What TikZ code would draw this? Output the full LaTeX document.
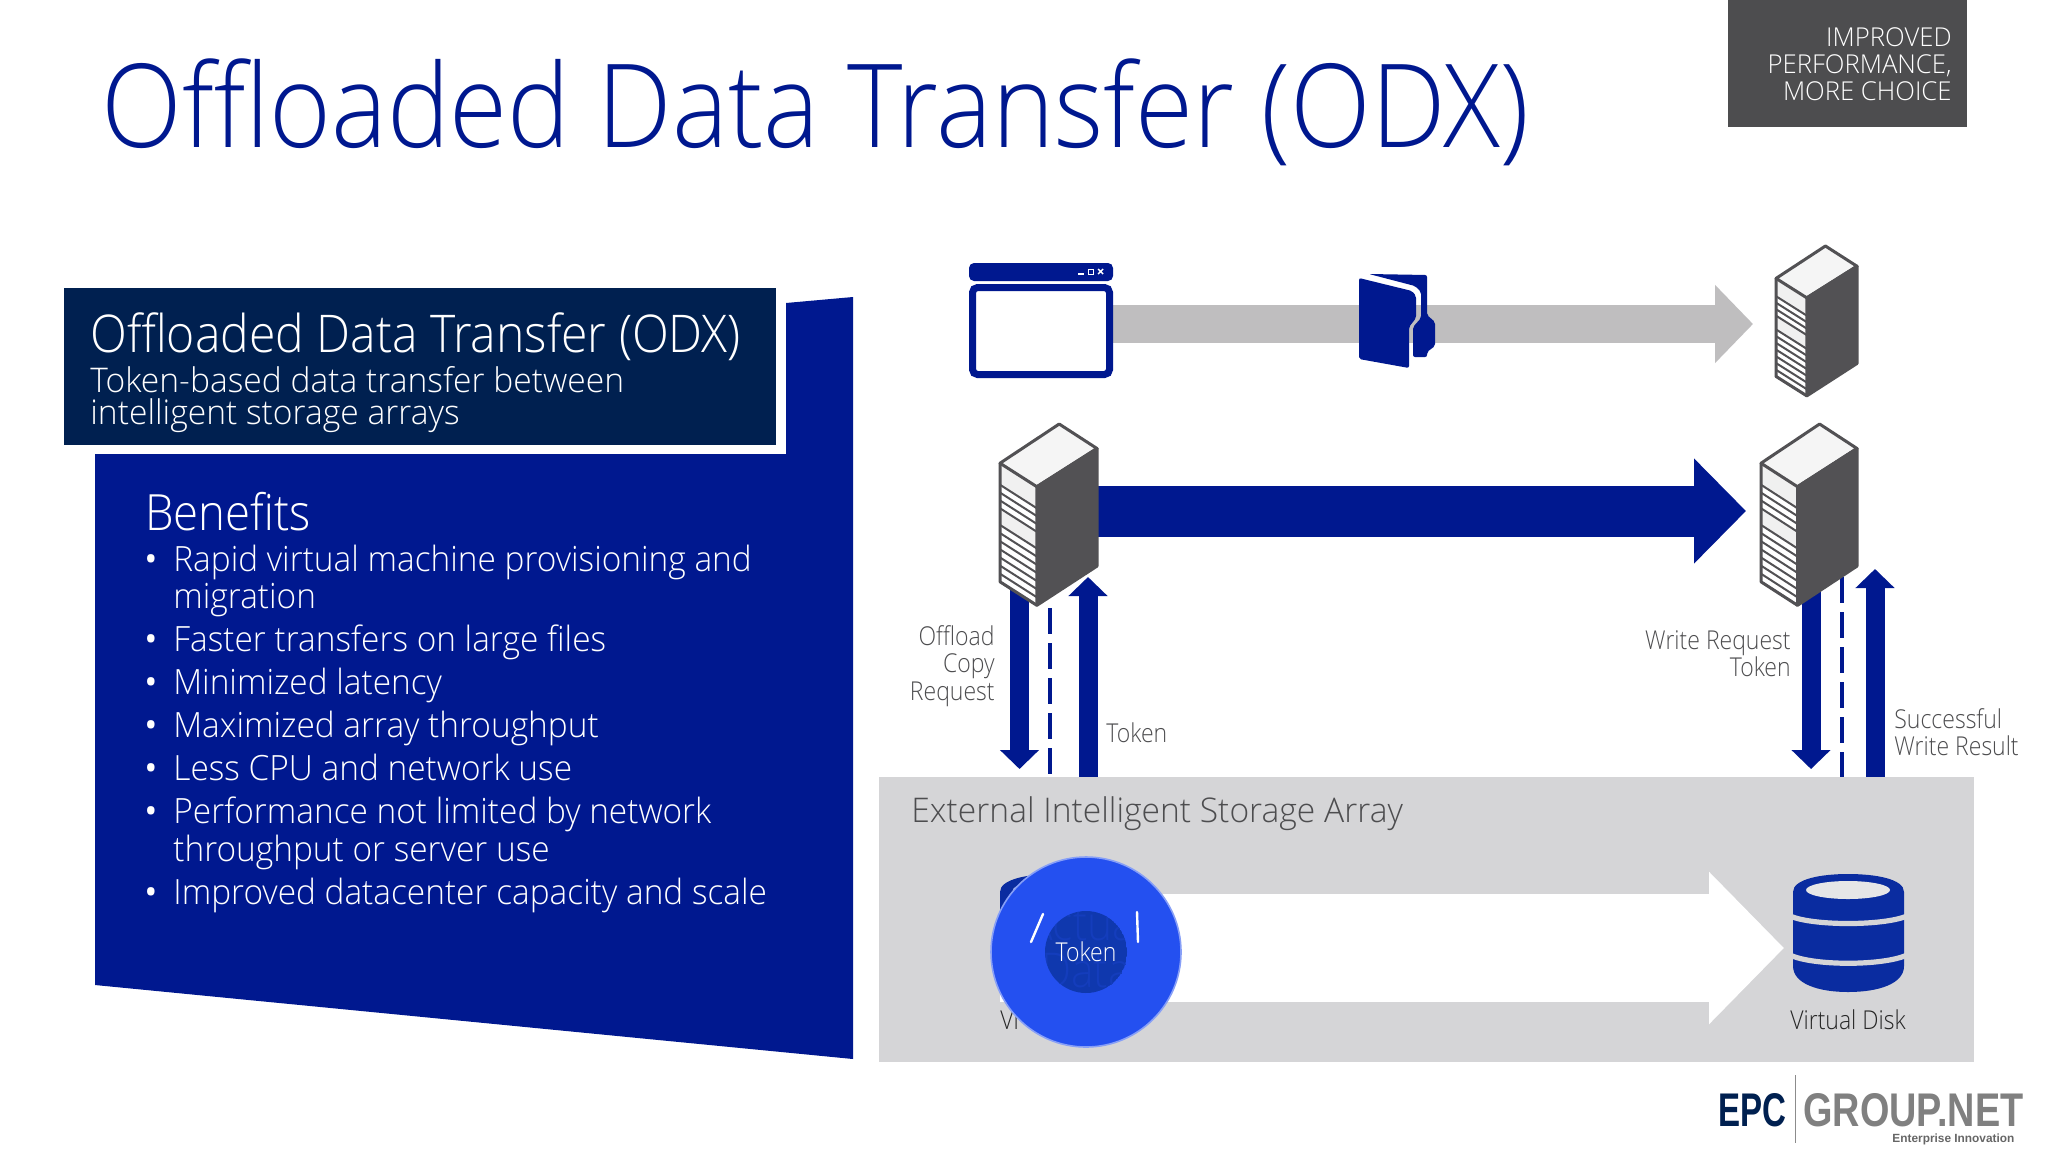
\documentclass[tikz,border=0pt]{standalone}
\usepackage{fontspec}
\usepackage{graphicx}
\setmainfont{Open Sans}
\newfontfamily\lightf{Open Sans Light}
\newfontfamily\lightn[FakeStretch=0.885]{Open Sans Light}
\newfontfamily\lightm[FakeStretch=0.91]{Open Sans Light}
\newfontfamily\lighth[FakeStretch=0.925]{Open Sans Light}
\newfontfamily\lights[FakeStretch=0.96]{Open Sans Light}
\newfontfamily\lightw[FakeStretch=0.988]{Open Sans Light}
\newfontfamily\logof{Liberation Sans}
\usetikzlibrary{arrows.meta}
\definecolor{odxblue}{HTML}{00188F}
\definecolor{odxnavy}{HTML}{002050}
\definecolor{odxgray}{HTML}{D5D5D7}
\definecolor{odxmid}{HTML}{BFBEBF}
\definecolor{odxtext}{HTML}{4D4D4F}
\definecolor{odxslate}{HTML}{525154}
\definecolor{odxdisk}{HTML}{0A2CA0}
\definecolor{odxbright}{HTML}{2450F0}
\definecolor{odxinner}{HTML}{0F38AE}
\tikzset{
  x=0.5pt,y=-0.5pt,
  lab/.style={inner sep=0pt,text=odxtext,font=\lightn\fontsize{13pt}{13pt}\selectfont},
  ben/.style={inner sep=0pt,text=white,anchor=base west,font=\lights\fontsize{17.4pt}{17.4pt}\selectfont},
  dot/.style={inner sep=0pt,text=white,anchor=base,font=\fontsize{17.4pt}{17.4pt}\selectfont},
  thickarrow/.style={draw=odxblue,line width=9.5pt,-{Triangle[length=9.5pt,width=19pt]}},
  dashline/.style={draw=odxblue,line width=1.6pt,dash pattern=on 13pt off 4.5pt},
}
\newcommand{\serverbox}[4]{%
\begin{scope}[shift={(#1,#2)},xscale=#3,yscale=#4]
 \fill[white] (0,40)--(38,64)--(38,185)--(0,161)--cycle;
 \fill[black!6] (0,40)--(38,64)--(38,86)--(0,62)--cycle;
 \fill[black!6] (0,86)--(38,110)--(38,127)--(0,103)--cycle;
 \foreach \k in {22,30,38,46,63,71.3,79.6,87.9,96.2,104.5,112.8,121}
   \draw[odxslate,line width=1pt] (0,40+\k)--(38,64+\k);
 \fill[black!4,draw=odxslate,line width=1.5pt,line join=round] (61,0)--(100,25)--(38,64)--(0,40)--cycle;
 \fill[odxslate,draw=odxslate,line width=1.5pt,line join=round] (100,25)--(100,145)--(38,185)--(38,64)--cycle;
 \draw[odxslate,line width=1.5pt,line join=round] (0,40)--(0,161)--(38,185);
\end{scope}}
\newcommand{\diskicon}[2]{%
\begin{scope}[shift={(#1,#2)}]
 \fill[odxdisk] (0,18) .. controls (0,5) and (28,0) .. (55,0) .. controls (83,0) and (111,5) .. (111,18)
   -- (111,92) .. controls (111,110) and (85,118) .. (55,118) .. controls (26,118) and (0,110) .. (0,92) -- cycle;
 \fill[odxgray!60!white] (55,16) ellipse [x radius=42,y radius=9];
 \draw[odxgray,line width=2.6pt] (-3,42) .. controls (20,52) and (90,52) .. (114,42);
 \draw[odxgray,line width=2.6pt] (-3,81) .. controls (20,92) and (90,92) .. (114,81);
\end{scope}}
\begin{document}
\begin{tikzpicture}
\useasboundingbox (0,0) rectangle (2048,1152);
\fill[white] (0,0) rectangle (2048,1152);

% title
\node[inner sep=0pt,anchor=base west,text=odxblue,font=\lightm\fontsize{58pt}{58pt}\selectfont] (title) at (101,147) {Offloaded Data Transfer (ODX)};

% corner tag
\fill[odxtext] (1728,0) rectangle (1967,127);
\node[inner sep=0pt,anchor=base east,text=white,font=\lightw\fontsize{13pt}{13pt}\selectfont] (tag1) at (1952,46) {IMPROVED};
\node[inner sep=0pt,anchor=base east,text=white,font=\lightw\fontsize{13pt}{13pt}\selectfont] (tag2) at (1952,73) {PERFORMANCE,};
\node[inner sep=0pt,anchor=base east,text=white,font=\lightw\fontsize{13pt}{13pt}\selectfont] (tag3) at (1952,100) {MORE CHOICE};

% left panel
\fill[odxblue] (95,454)--(786,454)--(786,303)--(853,297)--(853,1059)--(95,985)--cycle;
\fill[odxnavy] (64,288) rectangle (776,445);
\node[inner sep=0pt,anchor=base west,text=white,font=\lighth\fontsize{26pt}{26pt}\selectfont] (h1) at (90,352) {Offloaded Data Transfer (ODX)};
\node[inner sep=0pt,anchor=base west,text=white,font=\lightw\fontsize{17pt}{17pt}\selectfont] (h2) at (90,392) {Token-based data transfer between};
\node[inner sep=0pt,anchor=base west,text=white,font=\lightw\fontsize{17pt}{17pt}\selectfont] (h3) at (90,424) {intelligent storage arrays};
\node[inner sep=0pt,anchor=base west,text=white,font=\lightm\fontsize{25pt}{25pt}\selectfont] (bh) at (145,530) {Benefits};

\node[dot] (d1) at (151,571) {•};
\node[ben] (b1) at (173,571) {Rapid virtual machine provisioning and};
\node[ben] (b1b) at (173,608) {migration};
\node[dot] (d2) at (151,651) {•};
\node[ben] (b2) at (173,651) {Faster transfers on large files};
\node[dot] (d3) at (151,694) {•};
\node[ben] (b3) at (173,694) {Minimized latency};
\node[dot] (d4) at (151,737) {•};
\node[ben] (b4) at (173,737) {Maximized array throughput};
\node[dot] (d5) at (151,780) {•};
\node[ben] (b5) at (173,780) {Less CPU and network use};
\node[dot] (d6) at (151,823) {•};
\node[ben] (b6) at (173,823) {Performance not limited by network};
\node[ben] (b6b) at (173,861) {throughput or server use};
\node[dot] (d7) at (151,904) {•};
\node[ben] (b7) at (173,904) {Improved datacenter capacity and scale};

% anchors of connectors
\coordinate (winR) at (1113,324);
\coordinate (topTip) at (1753,324);
\coordinate (srcR) at (1098,511);
\coordinate (dstTip) at (1746,511);
\coordinate (srcDownTop) at (1019.5,590);
\coordinate (srcDownTip) at (1019.5,769);
\coordinate (srcUpBase) at (1088,777);
\coordinate (srcUpTip) at (1088,577);
\coordinate (srcDashTop) at (1050,608);
\coordinate (srcDashEnd) at (1050,777);
\coordinate (dstDownTop) at (1811,590);
\coordinate (dstDownTip) at (1811,769);
\coordinate (dstUpBase) at (1875,777);
\coordinate (dstUpTip) at (1875,569);
\coordinate (dstDashTop) at (1842,577);
\coordinate (dstDashEnd) at (1842,777);
\coordinate (arrStart) at (1000,948);
\coordinate (arrTip) at (1784,948);

% grey connector, window and folder
\draw[draw=odxmid,line width=19pt,-{Triangle[length=19pt,width=38pt]}] (winR) -- (topTip);
\fill[odxblue,rounded corners=2.5pt] (969,281)--(969,263)--(1113,263)--(1113,281)--cycle;
\fill[white] (1078,273) rectangle (1084,274.5);
\draw[white,line width=.5pt] (1088,269.5) rectangle (1093,274);
\draw[white,line width=.7pt] (1098,269)--(1103,274) (1103,269)--(1098,274);
\draw[odxblue,line width=3.5pt,rounded corners=2.5pt,fill=white] (972.5,287.5) rectangle (1109.5,374.5);

\fill[odxblue,rounded corners=1pt] (1369,274)--(1427,275)--(1427,315)--(1435,322)--(1435,346)--(1427,352)--(1427,357)--(1413,357)--(1413,327)--(1421,318)--(1421,292)--(1415,286)--cycle;
\fill[odxblue,rounded corners=1pt] (1359,278)--(1412,291)--(1416,296)--(1416,318)--(1409,327)--(1409,368)--(1359,359)--cycle;

% top server
\serverbox{1776}{246}{.81}{.81}

% main blue connector
\draw[draw=odxblue,line width=25.5pt,-{Triangle[length=26pt,width=51pt]}] (srcR) -- (dstTip);

% vertical connectors
\draw[thickarrow] (srcDownTop) -- (srcDownTip);
\draw[thickarrow] (srcUpBase) -- (srcUpTip);
\draw[dashline] (srcDashTop) -- (srcDashEnd);
\draw[thickarrow] (dstDownTop) -- (dstDownTip);
\draw[thickarrow] (dstUpBase) -- (dstUpTip);
\draw[dashline] (dstDashTop) -- (dstDashEnd);

% servers
\serverbox{1000}{424}{.97}{.98}
\serverbox{1761}{424}{.96}{.98}

% labels
\node[lab,anchor=base east] (l1) at (995,645) {Offload};
\node[lab,anchor=base east] (l2) at (995,672) {Copy};
\node[lab,anchor=base east] (l3) at (995,700) {Request};
\node[lab,anchor=base west] (l4) at (1106,742) {Token};
\node[lab,anchor=base east] (l5) at (1791,649) {Write Request};
\node[lab,anchor=base east] (l6) at (1791,676) {Token};
\node[lab,anchor=base west] (l7) at (1894,728) {Successful};
\node[lab,anchor=base west] (l8) at (1894,755) {Write Result};

% storage array
\fill[odxgray] (879,777) rectangle (1974,1062);
\node[inner sep=0pt,anchor=base west,text=odxtext,font=\lightw\fontsize{17pt}{17pt}\selectfont] (ext) at (911,822) {External Intelligent Storage Array};
\draw[draw=white,line width=54pt,-{Triangle[length=37.5pt,width=74pt]}] (arrStart) -- (arrTip);
\diskicon{1000}{874}
\diskicon{1793}{874}
\node[inner sep=0pt,anchor=base west,text=black!85,font=\lightn\fontsize{13pt}{13pt}\selectfont] (vd0) at (1000,1029) {Vi};
\node[inner sep=0pt,anchor=base,text=black!85,font=\lightn\fontsize{13pt}{13pt}\selectfont] (vd1) at (1848,1029) {Virtual Disk};

% token lens
\fill[odxbright,draw=odxbright!55!white,line width=.8pt] (1086,952) circle [radius=95];
\begin{scope}
\clip (1086,952) circle [radius=41];
\fill[odxinner] (1086,952) circle [radius=41];
\node[inner sep=0pt,anchor=base,text=odxbright!22!odxinner,font=\lightn\fontsize{24pt}{24pt}\selectfont] (act1) at (1086,940) {Actual};
\node[inner sep=0pt,anchor=base,text=odxbright!22!odxinner,font=\lightn\fontsize{24pt}{24pt}\selectfont] (act2) at (1086,987) {Data};
\end{scope}
\draw[white,line width=1.2pt,line cap=round] (1031,942)--(1043,914);
\draw[white,line width=1.2pt,line cap=round] (1137,912)--(1138,942);
\node[inner sep=0pt,text=white,font=\lightn\fontsize{13pt}{13pt}\selectfont] (tok) at (1086,952) {Token};

% logo
\node[inner sep=0pt,anchor=south west,text=odxnavy] (epc) at (1718,1127) {\resizebox{34pt}{16.5pt}{\logof\bfseries EPC}};
\coordinate (barT) at (1795,1075);
\coordinate (barB) at (1795,1143);
\draw[black!45,line width=.5pt] (barT) -- (barB);
\node[inner sep=0pt,anchor=south west,text=black!50] (grp) at (1803,1127) {\resizebox{110pt}{16.5pt}{\logof\bfseries GROUP.NET}};
\node[inner sep=0pt,anchor=base west,text=black!60] (ent) at (1892,1142) {\resizebox{61pt}{!}{\logof\bfseries Enterprise Innovation}};
\end{tikzpicture}
\end{document}
